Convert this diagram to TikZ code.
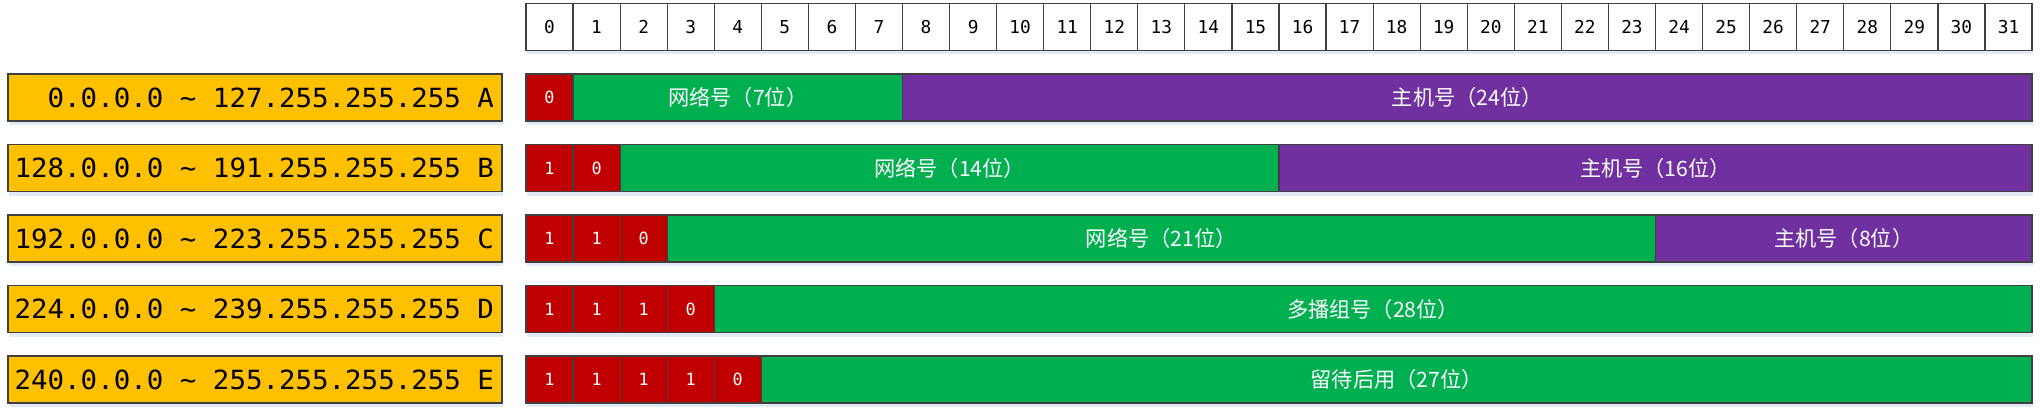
\documentclass[tikz,border=0pt]{standalone}
\usepackage{fontspec}
\newfontfamily\monof{DejaVu Sans Mono}
\newfontfamily\monow[FakeStretch=1.04]{DejaVu Sans Mono}
\newfontfamily\cjk{Noto Sans CJK SC}
\definecolor{cyel}{HTML}{FFC000}
\definecolor{cred}{HTML}{C00000}
\definecolor{cgreen}{HTML}{00B050}
\definecolor{cpurple}{HTML}{7030A0}
\definecolor{cline}{HTML}{404040}
\definecolor{cshadow}{HTML}{E2EAF5}
\newcommand\segm[6]{%
  \pgfmathsetmacro\segsx{526+#3*47.0625}%
  \pgfmathsetmacro\segex{526+(#4+1)*47.0625}%
  \pgfmathsetmacro\segwd{(\segex-\segsx)*0.5}%
  \pgfmathsetmacro\segcx{(\segsx+\segex)/2}%
  \node[#5, minimum width=\segwd pt] (#1) at (\segcx, #2) {#6};%
}
\newcommand\rtext[1]{\makebox[239pt][r]{#1}}
\begin{document}
\begin{tikzpicture}[x=0.5pt,y=-0.5pt,
  box/.style={draw=cline, line width=0.6pt, inner sep=0pt, outer sep=0pt, minimum height=23.5pt},
  hdr/.style={box, fill=white, font=\monof\fontsize{8.9}{10}\selectfont},
  bitc/.style={box, fill=cred, text=white, font=\monof\fontsize{8.4}{10}\selectfont},
  net/.style={box, fill=cgreen, text=white, font=\cjk\fontsize{10.6}{12}\selectfont},
  host/.style={box, fill=cpurple, text=white, font=\cjk\fontsize{10.6}{12}\selectfont},
  rng/.style={box, fill=cyel, minimum width=247pt,
    font=\monow\fontsize{13.2}{15}\selectfont},
  shadowstrip/.style={fill=cshadow}
]
\useasboundingbox (0,0) rectangle (2043,414);
% shadows
\fill[shadowstrip] (527,50.5) rectangle (2033,54);
\foreach \t in {74,144.5,215,285.5,356}{
  \fill[shadowstrip] (527,\t+47) rectangle (2033,\t+51);
  \fill[shadowstrip] (9,\t+47) rectangle (503,\t+51);
}
% header
\foreach \i in {0,...,31}{
  \segm{h\i}{27}{\i}{\i}{hdr}{\i}
}
% class ranges
\node[rng] (rA) at (255,97.5) {\rtext{0.0.0.0 \textasciitilde{} 127.255.255.255 A}};
\node[rng] (rB) at (255,168) {\rtext{128.0.0.0 \textasciitilde{} 191.255.255.255 B}};
\node[rng] (rC) at (255,238.5) {\rtext{192.0.0.0 \textasciitilde{} 223.255.255.255 C}};
\node[rng] (rD) at (255,309) {\rtext{224.0.0.0 \textasciitilde{} 239.255.255.255 D}};
\node[rng] (rE) at (255,379.5) {\rtext{240.0.0.0 \textasciitilde{} 255.255.255.255 E}};
% class A
\segm{a0}{97.5}{0}{0}{bitc}{0}
\segm{aN}{97.5}{1}{7}{net}{网络号（7位）}
\segm{aH}{97.5}{8}{31}{host}{主机号（24位）}
% class B
\segm{b0}{168}{0}{0}{bitc}{1}
\segm{b1}{168}{1}{1}{bitc}{0}
\segm{bN}{168}{2}{15}{net}{网络号（14位）}
\segm{bH}{168}{16}{31}{host}{主机号（16位）}
% class C
\segm{c0}{238.5}{0}{0}{bitc}{1}
\segm{c1}{238.5}{1}{1}{bitc}{1}
\segm{c2}{238.5}{2}{2}{bitc}{0}
\segm{cN}{238.5}{3}{23}{net}{网络号（21位）}
\segm{cH}{238.5}{24}{31}{host}{主机号（8位）}
% class D
\segm{d0}{309}{0}{0}{bitc}{1}
\segm{d1}{309}{1}{1}{bitc}{1}
\segm{d2}{309}{2}{2}{bitc}{1}
\segm{d3}{309}{3}{3}{bitc}{0}
\segm{dN}{309}{4}{31}{net}{多播组号（28位）}
% class E
\segm{e0}{379.5}{0}{0}{bitc}{1}
\segm{e1}{379.5}{1}{1}{bitc}{1}
\segm{e2}{379.5}{2}{2}{bitc}{1}
\segm{e3}{379.5}{3}{3}{bitc}{1}
\segm{e4}{379.5}{4}{4}{bitc}{0}
\segm{eN}{379.5}{5}{31}{net}{留待后用（27位）}
\end{tikzpicture}
\end{document}
